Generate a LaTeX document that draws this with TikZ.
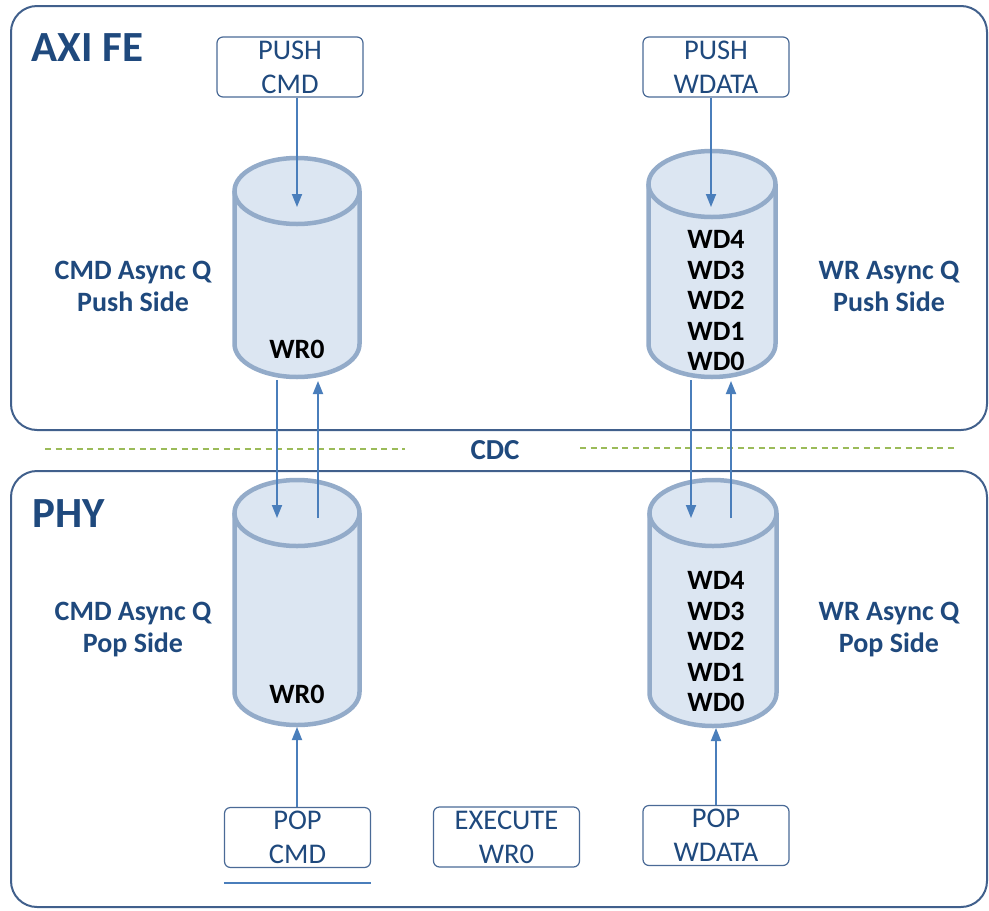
\documentclass[tikz,border=0pt]{standalone}
\usepackage{fontspec}
\setmainfont{Carlito}
\usetikzlibrary{arrows.meta}

\definecolor{paneline}{HTML}{41608C}
\definecolor{titleblue}{HTML}{1F497D}
\definecolor{boxline}{HTML}{4A6A96}
\definecolor{cylfill}{HTML}{DCE6F2}
\definecolor{cylline}{HTML}{93ABC9}
\definecolor{arrowblue}{HTML}{4A7EBB}
\definecolor{cdcgreen}{HTML}{9BBB59}

% cylinder: #1 centre x, #2 top-ellipse centre y, #3 bottom-ellipse centre y, #4 x radius, #5 y radius
\newcommand\queuecyl[5]{%
  \fill[cylfill] ({#1-#4},#2) -- ({#1-#4},#3)
     arc[start angle=180,end angle=360,x radius=#4pt,y radius=#5pt]
     -- ({#1+#4},#2) arc[start angle=0,end angle=180,x radius=#4pt,y radius=#5pt] -- cycle;
  \draw[cylline,line width=4.5pt] ({#1-#4},#2) -- ({#1-#4},#3)
     arc[start angle=180,end angle=360,x radius=#4pt,y radius=#5pt]
     -- ({#1+#4},#2);
  \draw[cylline,line width=4.5pt] (#1,#2) ellipse[x radius=#4pt,y radius=#5pt];
}

\begin{document}
\begin{tikzpicture}[x=1pt,y=-1pt,
  panel/.style={draw=paneline,line width=2pt,rounded corners=26pt},
  title/.style={text=titleblue,font=\fontsize{43}{46}\selectfont\bfseries},
  opbox/.style={draw=boxline,line width=1.2pt,rounded corners=6pt,
    minimum width=146pt,minimum height=60pt,inner sep=0pt,align=center,
    text=titleblue,font=\fontsize{28.5}{34}\selectfont},
  sidelabel/.style={align=center,text=titleblue,
    font=\fontsize{28}{32}\selectfont\bfseries},
  entries/.style={align=center,text=black,
    font=\fontsize{28}{30.5}\selectfont\bfseries},
  cylbox/.style={inner sep=0pt,minimum width=130pt,minimum height=225pt},
  arr/.style={draw=arrowblue,line width=1.8pt,
    -{Triangle[length=13pt,width=10pt]}},
  cdcline/.style={draw=cdcgreen,line width=2pt,dash pattern=on 6pt off 4.5pt}
]
\useasboundingbox (0,0) rectangle (989,911);

% clock domain panels
\draw[panel] (11,6) rectangle (987,430);
\draw[panel] (11,471) rectangle (987,907);
\node[title,anchor=west] (axife) at (28,48) {AXI FE};
\node[title,anchor=west] (phy) at (29,514) {PHY};

% CDC boundary
\draw[cdcline] (45,449) -- (405,449);
\draw[cdcline] (580,448) -- (955,448);
\node[text=titleblue,font=\fontsize{29}{32}\selectfont\bfseries] (cdc) at (495,450) {CDC};

% queues
\queuecyl{297}{191}{344}{62.5}{33}
\queuecyl{712}{184}{344}{63.5}{33}
\queuecyl{297}{513}{692}{62.5}{33}
\queuecyl{713}{513}{693}{63.5}{33}

\node[cylbox] (cmdpush) at (297,268) {};
\node[cylbox] (wrpush) at (712,264) {};
\node[cylbox] (cmdpop) at (297,602) {};
\node[cylbox] (wrpop) at (713,603) {};

\node[entries] (cmdpushwr) at (297,349) {WR0};
\node[entries] (wrpushwd) at (716,301) {WD4\\WD3\\WD2\\WD1\\WD0};
\node[entries] (cmdpopwr) at (297,694) {WR0};
\node[entries] (wrpopwd) at (716,642) {WD4\\WD3\\WD2\\WD1\\WD0};

% side labels
\node[sidelabel] (cmdpushlbl) at (133,286) {CMD Async Q\\Push Side};
\node[sidelabel] (wrpushlbl) at (889,286) {WR Async Q\\Push Side};
\node[sidelabel] (cmdpoplbl) at (133,630) {CMD Async Q\\Pop Side};
\node[sidelabel] (wrpoplbl) at (889,630) {WR Async Q\\Pop Side};

% operations
\node[opbox] (pushcmd) at (290,67) {PUSH\\CMD};
\node[opbox] (pushwdata) at (716,67) {PUSH\\WDATA};
\node[opbox] (popcmd) at (297.5,837.5) {POP\\CMD};
\node[opbox] (execwr) at (506.5,837) {EXECUTE\\WR0};
\node[opbox] (popwdata) at (716,835.5) {POP\\WDATA};
\path (popcmd.south west) ++(0,15) coordinate (ulA)
  (popcmd.south east) ++(0,15) coordinate (ulB);
\draw[draw=arrowblue,line width=2pt] (ulA) -- (ulB);

% push into the queues
\coordinate (cmdin) at (297,207);
\coordinate (wrin) at (711,207);
\draw[arr] (pushcmd.south -| cmdin) -- (cmdin);
\draw[arr] (pushwdata.south -| wrin) -- (wrin);

% crossing the clock domains
\coordinate (cmdx1) at (277,380);
\coordinate (cmdx2) at (277,518);
\coordinate (cmdy1) at (318,518);
\coordinate (cmdy2) at (318,381);
\coordinate (wrx1) at (691,380);
\coordinate (wrx2) at (691,518);
\coordinate (wry1) at (731,518);
\coordinate (wry2) at (731,381);
\draw[arr] (cmdx1) -- (cmdx2);
\draw[arr] (cmdy1) -- (cmdy2);
\draw[arr] (wrx1) -- (wrx2);
\draw[arr] (wry1) -- (wry2);

% pop from the queues
\coordinate (cmdout) at (297,727);
\coordinate (wrout) at (716,728);
\draw[arr] (popcmd.north -| cmdout) -- (cmdout);
\draw[arr] (popwdata.north -| wrout) -- (wrout);
\end{tikzpicture}
\end{document}
